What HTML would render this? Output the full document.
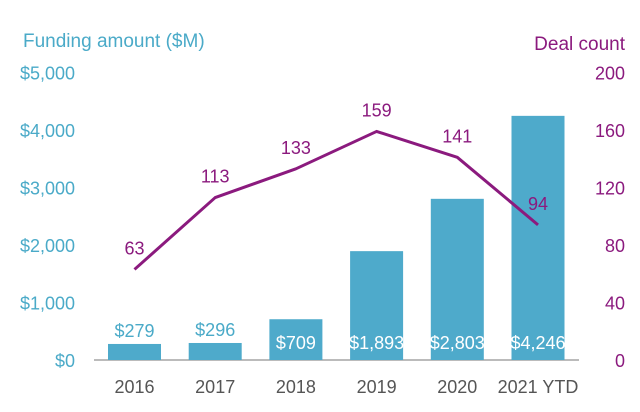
<!DOCTYPE html>
<html><head><meta charset="utf-8"><style>
html,body{margin:0;padding:0;background:#fff}
svg{display:block;font-family:"Liberation Sans",sans-serif}
</style></head><body>
<svg id="chart" width="640" height="412" viewBox="0 0 640 412">
<text x="23" y="47" font-size="19" fill="#4aaac8">Funding amount ($M)</text>
<text x="625" y="50" font-size="19" fill="#8b1a7e" text-anchor="end">Deal count</text>
<g id="axes"></g><g id="bars"></g><g id="line"></g>
</svg>
<script>
const categories=["2016","2017","2018","2019","2020","2021 YTD"];
const funding=[279,296,709,1893,2803,4246];
const fundingLabels=["$279","$296","$709","$1,893","$2,803","$4,246"];
const deals=[63,113,133,159,141,94];
const leftTicks=[0,1000,2000,3000,4000,5000];
const leftTickLabels=["$0","$1,000","$2,000","$3,000","$4,000","$5,000"];
const rightTicks=[0,40,80,120,160,200];
const NS="http://www.w3.org/2000/svg";
const base=360,top0=72.5;
const yL=v=>base-(base-top0)*v/5000;
const yR=v=>base-(base-top0)*v/200;
const xC=i=>134.5+i*80.7;
const bw=53;
function mk(t,a,p,txt){const e=document.createElementNS(NS,t);for(const k in a)e.setAttribute(k,a[k]);if(txt!==undefined)e.textContent=txt;p.appendChild(e);return e;}
const ax=document.getElementById('axes'),bg=document.getElementById('bars'),lg=document.getElementById('line');
leftTicks.forEach((v,i)=>{const t=mk('text',{x:75,y:yL(v)+7,'font-size':18,fill:'#4aaac8','text-anchor':'end'},ax,leftTickLabels[i]);

});
rightTicks.forEach(v=>{const t=mk('text',{x:625,y:yR(v)+7,'font-size':18,fill:'#8b1a7e','text-anchor':'end'},ax,String(v));

});
const al=mk('line',{x1:94,x2:579,y1:base,y2:base,stroke:'#777','stroke-width':1},ax);


categories.forEach((c,i)=>{const t=mk('text',{x:xC(i),y:393,'font-size':18,fill:'#555','text-anchor':'middle'},ax,c);


const y=yL(funding[i]);
const r=mk('rect',{x:xC(i)-bw/2,y:y,width:bw,height:base-y,fill:'#4eaacb'},bg);


const inside=(base-y)>30;
const lt=mk('text',{x:xC(i),y:inside?349:y-7,'font-size':18,fill:inside?'#fff':'#4aaac8','text-anchor':'middle'},bg,fundingLabels[i]);

});
const pts=deals.map((d,i)=>xC(i)+','+yR(d)).join(' ');
const pl=mk('polyline',{points:pts,fill:'none',stroke:'#8b1a7e','stroke-width':3,'stroke-linejoin':'round'},lg);


deals.forEach((d,i)=>{const t=mk('text',{x:xC(i),y:yR(d)-15,'font-size':18,fill:'#8b1a7e','text-anchor':'middle'},lg,String(d));

});
</script>
</body></html>
